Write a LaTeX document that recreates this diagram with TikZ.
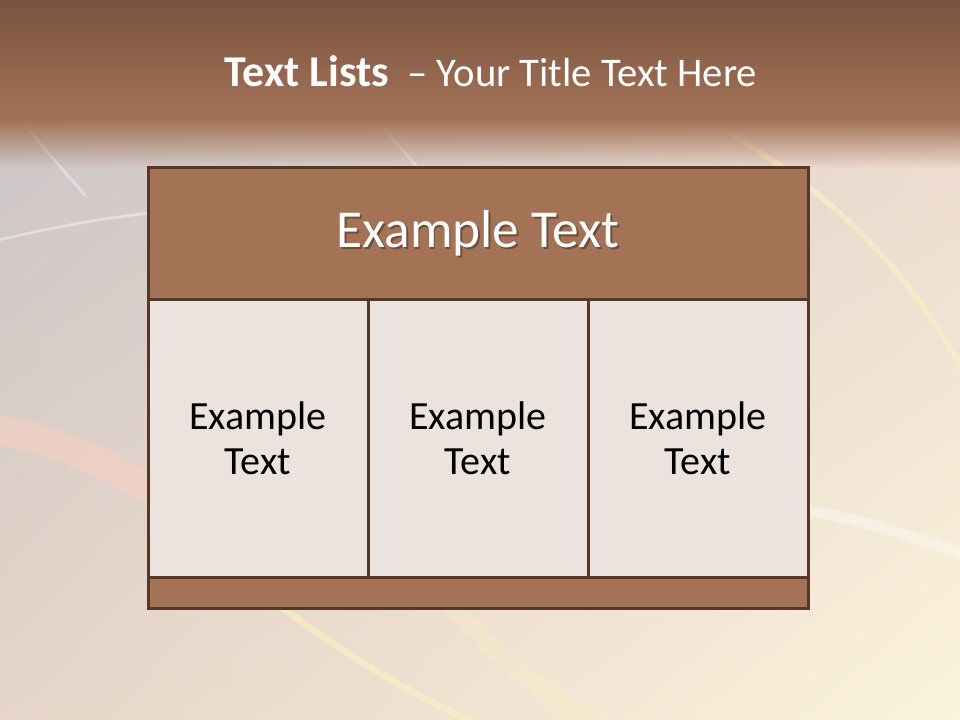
\documentclass[tikz,border=0pt]{standalone}
\usepackage{fontspec}
\setmainfont{Carlito}
\usetikzlibrary{fadings,shadings}
\definecolor{brownA}{HTML}{A47356}
\definecolor{brownTop}{HTML}{7A5340}
\definecolor{edgeC}{HTML}{553826}
\definecolor{cellC}{HTML}{EDE3DE}
\definecolor{creamC}{HTML}{FBEEC2}
\definecolor{peachC}{HTML}{F8CFC2}
\definecolor{bgUL}{RGB}{198,195,200}
\definecolor{bgUR}{RGB}{234,214,204}
\definecolor{bgLL}{RGB}{230,213,200}
\definecolor{bgLR}{RGB}{251,243,220}
\definecolor{shadowC}{HTML}{6E4D3A}
\tikzfading[name=fadedown, top color=transparent!0, bottom color=transparent!100]
\newcommand{\shadowed}[1]{\rlap{\raisebox{-1.3pt}{\hspace{1.3pt}\textcolor{shadowC}{#1}}}#1}
\begin{document}
\begin{tikzpicture}[x=0.75pt,y=-0.75pt,
  box/.style={draw=edgeC, line width=2.25pt, inner sep=0pt, outer sep=0pt},
  hdrbox/.style={box, fill=brownA, minimum width=495pt, minimum height=99pt,
     text=white, font=\fontsize{40}{48}\selectfont},
  cellbox/.style={box, fill=cellC, minimum width=165pt, minimum height=207.75pt,
     align=center, font=\fontsize{30}{34}\selectfont, text=black},
  footbox/.style={box, fill=brownA, minimum width=495pt, minimum height=23.25pt},
  titletext/.style={text=white, font=\fontsize{30.5}{36}\selectfont},
  streak/.style={line cap=round, opacity=0.4}
]
\useasboundingbox (0,0) rectangle (960,720);
% background
\shade[upper left=bgUL, upper right=bgUR, lower left=bgLL, lower right=bgLR]
  (0,0) rectangle (960,720);
% light streaks
\draw[streak, peachC, line width=22pt, opacity=0.6] (-10,428) .. controls (60,440) and (110,465) .. (170,500);
\draw[streak, white, line width=2pt] (-10,242) .. controls (50,228) and (100,218) .. (160,212);
\draw[streak, white, line width=2pt] (25,125) .. controls (45,150) and (65,172) .. (85,195);
\draw[streak, white, line width=2pt] (383,128) -- (420,170);
\draw[streak, creamC, line width=4pt, opacity=0.7] (720,128) .. controls (830,190) and (910,270) .. (965,375);
\draw[streak, creamC, line width=5pt, opacity=0.7] (260,592) .. controls (340,650) and (400,690) .. (480,725);
\draw[streak, creamC, line width=14pt, opacity=0.35] (440,592) .. controls (500,660) and (550,700) .. (600,725);
\draw[streak, white, line width=8pt, opacity=0.35] (800,508) .. controls (860,520) and (910,535) .. (965,555);
% top band
\shade[top color=brownTop, bottom color=brownA] (0,0) rectangle (960,121);
\fill[brownA, path fading=fadedown] (0,120) rectangle (960,168);
% title
\node[titletext, anchor=base] (title) at (491,87)
  {{\fontsize{33}{36}\selectfont\bfseries Text Lists}\hspace{0.45em}– Your Title Text Here};
% diagram
\node[hdrbox] (hdr) at (478,234) {\shadowed{Example Text}};
\node[cellbox] (c1) at (258,438.5) {Example\\Text};
\node[cellbox] (c2) at (478,438.5) {Example\\Text};
\node[cellbox] (c3) at (698,438.5) {Example\\Text};
\node[footbox] (foot) at (478,592.5) {};
\end{tikzpicture}
\end{document}
